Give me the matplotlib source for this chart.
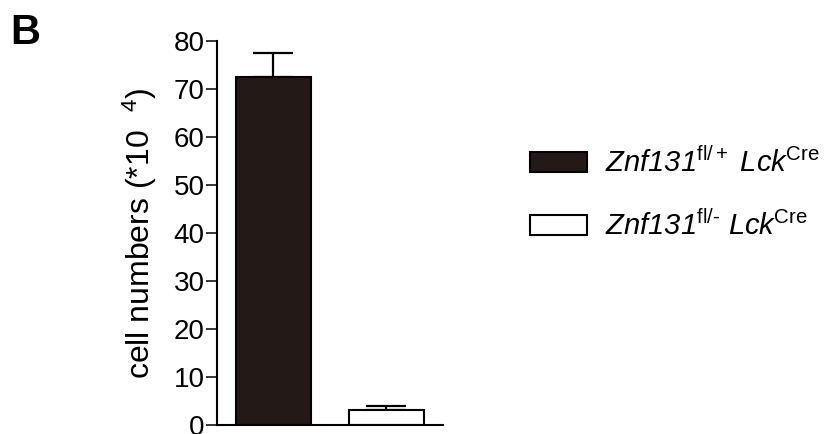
import matplotlib
matplotlib.use("Agg")
import matplotlib.pyplot as plt

plt.rcParams['font.family'] = ['Liberation Sans', 'DejaVu Sans']
plt.rcParams['mathtext.fontset'] = 'custom'
plt.rcParams['mathtext.rm'] = 'Liberation Sans'
plt.rcParams['mathtext.it'] = 'Liberation Sans:italic'
plt.rcParams['mathtext.sf'] = 'Liberation Sans:italic'

# data
groups = [r'$\mathsf{Znf131}^{\mathrm{fl/+}}\ \mathsf{Lck}^{\mathrm{Cre}}$',
          r'$\mathsf{Znf131}^{\mathrm{fl/\text{-}}}\ \mathsf{Lck}^{\mathrm{Cre}}$']
means = [72.5, 3.1]
errs = [5.0, 0.9]
colors = ['#231916', 'white']
yticks = [0, 10, 20, 30, 40, 50, 60, 70, 80]

fig = plt.figure(figsize=(8.26, 4.34), dpi=100)
ax = fig.add_axes([0.2627, 0.0207, 0.2736, 0.8848])

bars = []
for i in range(len(means)):
    b = ax.bar(i, means[i], width=0.67, color=colors[i], edgecolor='black',
               linewidth=1.5, label=groups[i], zorder=2)
    bars.append(b)
    ax.errorbar(i, means[i], yerr=[[0], [errs[i]]], fmt='none', ecolor='black',
                elinewidth=1.6, capsize=14.4, capthick=1.6, zorder=1)

ax.set_xlim(-0.5, 1.5)
ax.set_ylim(0, 80)
ax.set_yticks(yticks)
ax.set_xticks([])
ax.spines['top'].set_visible(False)
ax.spines['right'].set_visible(False)
ax.spines['left'].set_linewidth(1.5)
ax.spines['bottom'].set_linewidth(1.5)
ax.tick_params(axis='y', length=8, width=1.1, labelsize=20, pad=1)
ax.set_ylabel(r'cell numbers (*10  $^{4}$)', fontsize=23)
ax.yaxis.set_label_coords(-0.257, 0.5)

fig.text(0.013, 0.97, 'B', fontsize=30, fontweight='bold', va='top', ha='left')

fig.legend(handles=[b[0] for b in bars], labels=groups, loc='center left',
           bbox_to_anchor=(0.642, 0.552), frameon=False, fontsize=21,
           handlelength=1.95, handleheight=0.68, handletextpad=0.6,
           labelspacing=1.1, borderpad=0, borderaxespad=0)

fig.savefig('out.png', dpi=100)
